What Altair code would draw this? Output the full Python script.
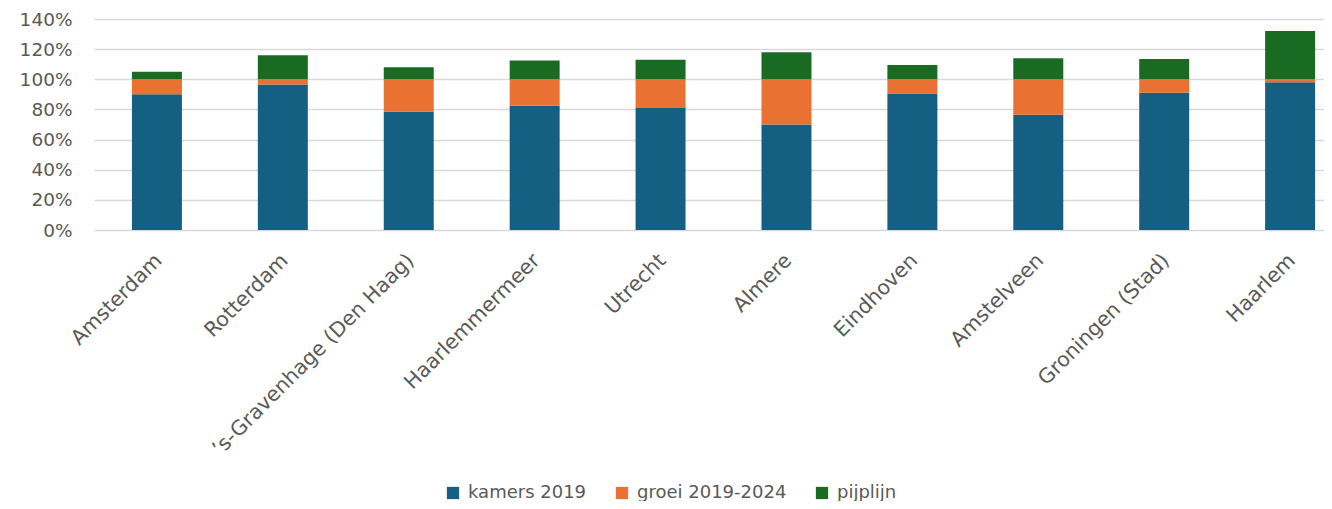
import altair as alt
import pandas as pd

cities = ["Amsterdam", "Rotterdam", "’s-Gravenhage (Den Haag)", "Haarlemmermeer", "Utrecht",
          "Almere", "Eindhoven", "Amstelveen", "Groningen (Stad)", "Haarlem"]
kamers_2019 = [90, 96.5, 78.5, 82.5, 81, 70, 90.5, 76.5, 91, 98]
groei_2019_2024 = [10, 3.5, 21.5, 17.5, 19, 30, 9.5, 23.5, 9, 2]
pijplijn = [5, 16, 8, 12.5, 13, 18, 9.5, 14, 13.5, 32]
series = ["kamers 2019", "groei 2019-2024", "pijplijn"]
colors = ["#156082", "#E97132", "#196B24"]

rows = []
for i, c in enumerate(cities):
    for j, (s, vals) in enumerate(zip(series, [kamers_2019, groei_2019_2024, pijplijn])):
        rows.append({"stad": c, "reeks": s, "waarde": vals[i] / 100.0, "idx": j})
df = pd.DataFrame(rows)

FONT = "DejaVu Sans"
GREY = "#595959"

chart = alt.Chart(df).mark_bar().encode(
    x=alt.X("stad:N", sort=cities, title=None,
            scale=alt.Scale(paddingInner=0.603, paddingOuter=0.186, align=0.81),
            axis=alt.Axis(labelAngle=-45, labelAlign="right", labelBaseline="top",
                          labelPadding=20, labelOffset=-5, ticks=False, domain=False,
                          labelFontSize=20.5, labelColor=GREY, labelFont=FONT,
                          labelLimit=400)),
    y=alt.Y("waarde:Q", stack="zero", title=None,
            scale=alt.Scale(domain=[0, 1.4], nice=False),
            axis=alt.Axis(format=".0%", values=[0, 0.2, 0.4, 0.6, 0.8, 1.0, 1.2, 1.4],
                          ticks=False, domain=False, labelPadding=22, labelFontSize=18.5,
                          labelColor=GREY, labelFont=FONT, gridColor="#d9d9d9",
                          gridWidth=1.5)),
    color=alt.Color("reeks:N", scale=alt.Scale(domain=series, range=colors),
                    legend=alt.Legend(title=None, orient="none", legendX=350, legendY=465,
                                      direction="horizontal", symbolType="square",
                                      symbolSize=150, symbolStrokeWidth=0,
                                      labelFontSize=18, labelColor=GREY, labelFont=FONT,
                                      columnPadding=26, labelOffset=6)),
    order=alt.Order("idx:Q", sort="ascending"),
).properties(
    width=1230, height=211,
    autosize=alt.AutoSizeParams(type="none"),
    padding={"left": 86, "top": 11, "right": 0, "bottom": 271},
).configure_view(stroke=None)

chart.save("out.html", embed_options={"renderer": "svg", "actions": False})
